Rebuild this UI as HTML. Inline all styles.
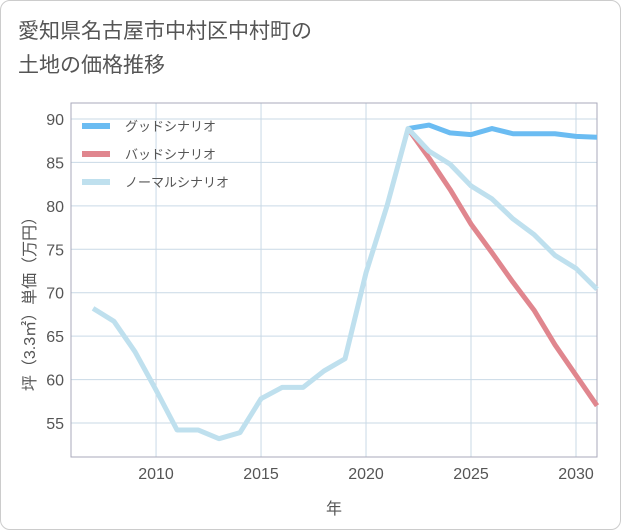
<!DOCTYPE html>
<html><head><meta charset="utf-8"><style>
body{margin:0;background:#fff;}
#wrap{width:619px;height:528px;border:1px solid #ccc;border-radius:10px;position:relative;background:#fff;font-family:"Liberation Sans","Noto Sans CJK JP",sans-serif;}
#title{position:absolute;left:17px;top:14px;font-size:21px;line-height:34px;color:#555;}
</style></head><body>
<div id="wrap">
<div id="title">愛知県名古屋市中村区中村町の<br>土地の価格推移</div>
<svg id="chart" width="621" height="530" style="position:absolute;left:-1px;top:-1px"></svg>
</div>
<script>
const years=[2007,2008,2009,2010,2011,2012,2013,2014,2015,2016,2017,2018,2019,2020,2021,2022,2023,2024,2025,2026,2027,2028,2029,2030,2031];
const normal=[68.2,66.7,63.2,58.8,54.2,54.2,53.2,53.9,57.8,59.1,59.1,61.0,62.4,72.3,80.0,88.9,86.3,84.8,82.3,80.8,78.5,76.7,74.3,72.8,70.4];
const futureYears=[2022,2023,2024,2025,2026,2027,2028,2029,2030,2031];
const good=[88.9,89.3,88.4,88.2,88.9,88.3,88.3,88.3,88.0,87.9];
const bad=[88.9,85.5,81.9,77.9,74.6,71.2,68.0,64.0,60.5,57.0];
const xTicks=[2010,2015,2020,2025,2030];
const yTicks=[55,60,65,70,75,80,85,90];
const L=71,T=103,R=597,B=457,x0=2005.95,x1=2031,y0=51.09,y1=91.84;
const X=v=>L+(v-x0)/(x1-x0)*(R-L);
const Y=v=>B-(v-y0)/(y1-y0)*(B-T);
const svg=document.getElementById('chart');const NS='http://www.w3.org/2000/svg';
function mk(t,a,p){const e=document.createElementNS(NS,t);for(const k in a)e.setAttribute(k,a[k]);(p||svg).appendChild(e);return e;}
for(const t of xTicks){const l=mk('line',{x1:X(t),x2:X(t),y1:T,y2:B,stroke:'#c9d9e6','stroke-width':1});


const tx=mk('text',{x:X(t),y:479,'text-anchor':'middle','font-size':16,fill:'#555'});tx.textContent=t;

}
for(const t of yTicks){const l=mk('line',{x1:L,x2:R,y1:Y(t),y2:Y(t),stroke:'#c9d9e6','stroke-width':1});


const tx=mk('text',{x:64,y:Y(t)+6,'text-anchor':'end','font-size':16,fill:'#555'});tx.textContent=t;

}
const fr=mk('rect',{x:L,y:T,width:R-L,height:B-T,fill:'none',stroke:'#aab','stroke-width':1});


function line(xs,vs,c,n){const p=mk('polyline',{points:xs.map((x,i)=>X(x)+','+Y(vs[i])).join(' '),fill:'none',stroke:c,'stroke-width':5,'stroke-linejoin':'round'});

}
line(futureYears,bad,'#e0868e','bad-scenario-line');
line(futureYears,good,'#6bbcf2','good-scenario-line');
line(years,normal,'#bfe0ee','normal-scenario-line');
const leg=[['グッドシナリオ','#6bbcf2'],['バッドシナリオ','#e0868e'],['ノーマルシナリオ','#bfe0ee']];
leg.forEach((d,i)=>{const y=126+i*28;
const s=mk('line',{x1:82,x2:110,y1:y,y2:y,stroke:d[1],'stroke-width':6});


const t=mk('text',{x:125,y:y+5,'font-size':13,fill:'#555'});t.textContent=d[0];

});
const xt=mk('text',{x:334,y:514,'text-anchor':'middle','font-size':16,fill:'#555'});xt.textContent='年';


const yt=mk('text',{x:0,y:0,'text-anchor':'middle','font-size':16,fill:'#555',transform:'translate(35,300) rotate(-90)'});yt.textContent='坪（3.3㎡）単価（万円）';


</script>
</body></html>
